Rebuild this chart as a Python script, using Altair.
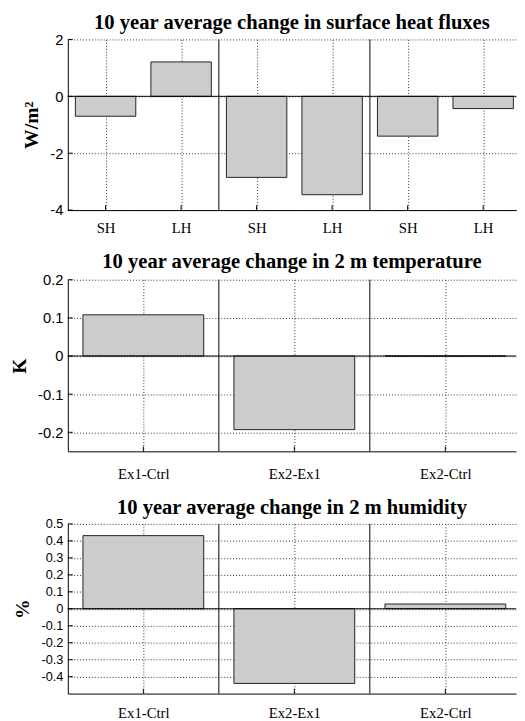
import altair as alt
import pandas as pd

# ---------------- data ----------------
flux_labels = ["SH", "LH", "SH", "LH", "SH", "LH"]
flux_values = [-0.70, 1.21, -2.85, -3.46, -1.40, -0.43]
flux_ticks = [-4, -2, 0, 2]
flux_separators = [2.5, 4.5]

pair_labels = ["Ex1-Ctrl", "Ex2-Ex1", "Ex2-Ctrl"]
temp_values = [0.108, -0.193, 0.0]
temp_ticks = [-0.2, -0.1, 0, 0.1, 0.2]

hum_values = [0.431, -0.44, 0.028]
hum_ticks = [-0.4, -0.3, -0.2, -0.1, 0, 0.1, 0.2, 0.3, 0.4, 0.5]
pair_separators = [1.5, 2.5]

titles = [
    "10 year average change in surface heat fluxes",
    "10 year average change in 2 m temperature",
    "10 year average change in 2 m humidity",
]
y_titles = ["W/m\u00b2", "K", "%"]

SERIF = "Liberation Serif"
SANS = "Liberation Sans"
GRID = "#333333"
W = 457


def panel(labels, values, ticks, ydom, height, title, ytitle, ytitle_cx,
          seps, xmax, ylab_size, xlab_pad, toff):
    n = len(labels)
    pos = list(range(1, n + 1))
    df = pd.DataFrame({"pos": pos, "label": labels, "value": values})
    xscale = alt.Scale(domain=[0.5, xmax], nice=False, zero=False)
    yscale = alt.Scale(domain=ydom, nice=False, zero=False)
    label_expr = "[" + ",".join("'%s'" % l for l in labels) + "][datum.value - 1]"

    xaxis = alt.Axis(values=pos, labelExpr=label_expr, title=None, grid=True,
                     gridDash=[1, 2], gridColor=GRID, gridOpacity=1,
                     ticks=False, tickSize=0, domainColor="black",
                     labelFont=SERIF, labelFontSize=15, labelColor="black",
                     labelPadding=xlab_pad)
    yaxis = alt.Axis(values=ticks, labelExpr="'' + datum.value", title=ytitle,
                     grid=True, gridDash=[1, 2], gridColor=GRID, gridOpacity=1,
                     ticks=False, tickSize=0, domainColor="black",
                     labelFont=SANS, labelFontSize=ylab_size, labelColor="black",
                     labelPadding=5,
                     titleFont=SERIF, titleFontSize=20, titleFontWeight="bold",
                     titleColor="black", titleAngle=270, titleAlign="center",
                     titleBaseline="middle", titleX=ytitle_cx - 67,
                     titleY=height / 2)

    bars = alt.Chart(df).transform_calculate(
        x0="datum.pos - 0.4", x1="datum.pos + 0.4"
    ).mark_bar(fill="#cccccc", stroke="#222222", strokeWidth=1).encode(
        x=alt.X("x0:Q", scale=xscale, axis=xaxis),
        x2="x1:Q",
        y=alt.Y("value:Q", scale=yscale, axis=yaxis),
        y2=alt.datum(0),
    )
    zero = alt.Chart(pd.DataFrame({"z": [0]})).mark_rule(
        color="black", strokeWidth=1
    ).encode(y=alt.Y("z:Q", scale=yscale, axis=yaxis))
    sep = alt.Chart(pd.DataFrame({"s": seps})).mark_rule(
        color="black", strokeWidth=1
    ).encode(x=alt.X("s:Q", scale=xscale, axis=xaxis))
    ytk = alt.Chart(pd.DataFrame({"t": ticks})).mark_rule(
        color="black", strokeWidth=1
    ).encode(y=alt.Y("t:Q", scale=yscale, axis=yaxis),
             x=alt.value(0), x2=alt.value(5))
    xtk = alt.Chart(df).mark_rule(color="black", strokeWidth=1).encode(
        x=alt.X("pos:Q", scale=xscale, axis=xaxis),
        y=alt.value(height), y2=alt.value(height - 5))

    return alt.layer(bars, zero, sep, ytk, xtk).properties(
        width=W, height=height,
        title=alt.TitleParams(title, font=SERIF, fontSize=21, fontWeight="bold",
                              color="black", anchor="middle", frame="group",
                              baseline="alphabetic", offset=toff),
    )


p1 = panel(flux_labels, flux_values, flux_ticks, [-4, 2], 174, titles[0],
           y_titles[0], 30, flux_separators, 6.435, 15, 11, -17)
p2 = panel(pair_labels, temp_values, temp_ticks, [-0.25, 0.2], 175, titles[1],
           y_titles[1], 17.5, pair_separators, 3.468, 15, 16, -16)
p3 = panel(pair_labels, hum_values, hum_ticks, [-0.5, 0.5], 173, titles[2],
           y_titles[2], 21, pair_separators, 3.468, 13, 12, -17)

chart = alt.vconcat(p1, p2, p3, spacing=16).properties(
    padding={"left": 1, "top": -3, "right": 0, "bottom": 0}
).configure_view(stroke=None)

chart.save("out.html", embed_options={"renderer": "svg", "actions": False})
